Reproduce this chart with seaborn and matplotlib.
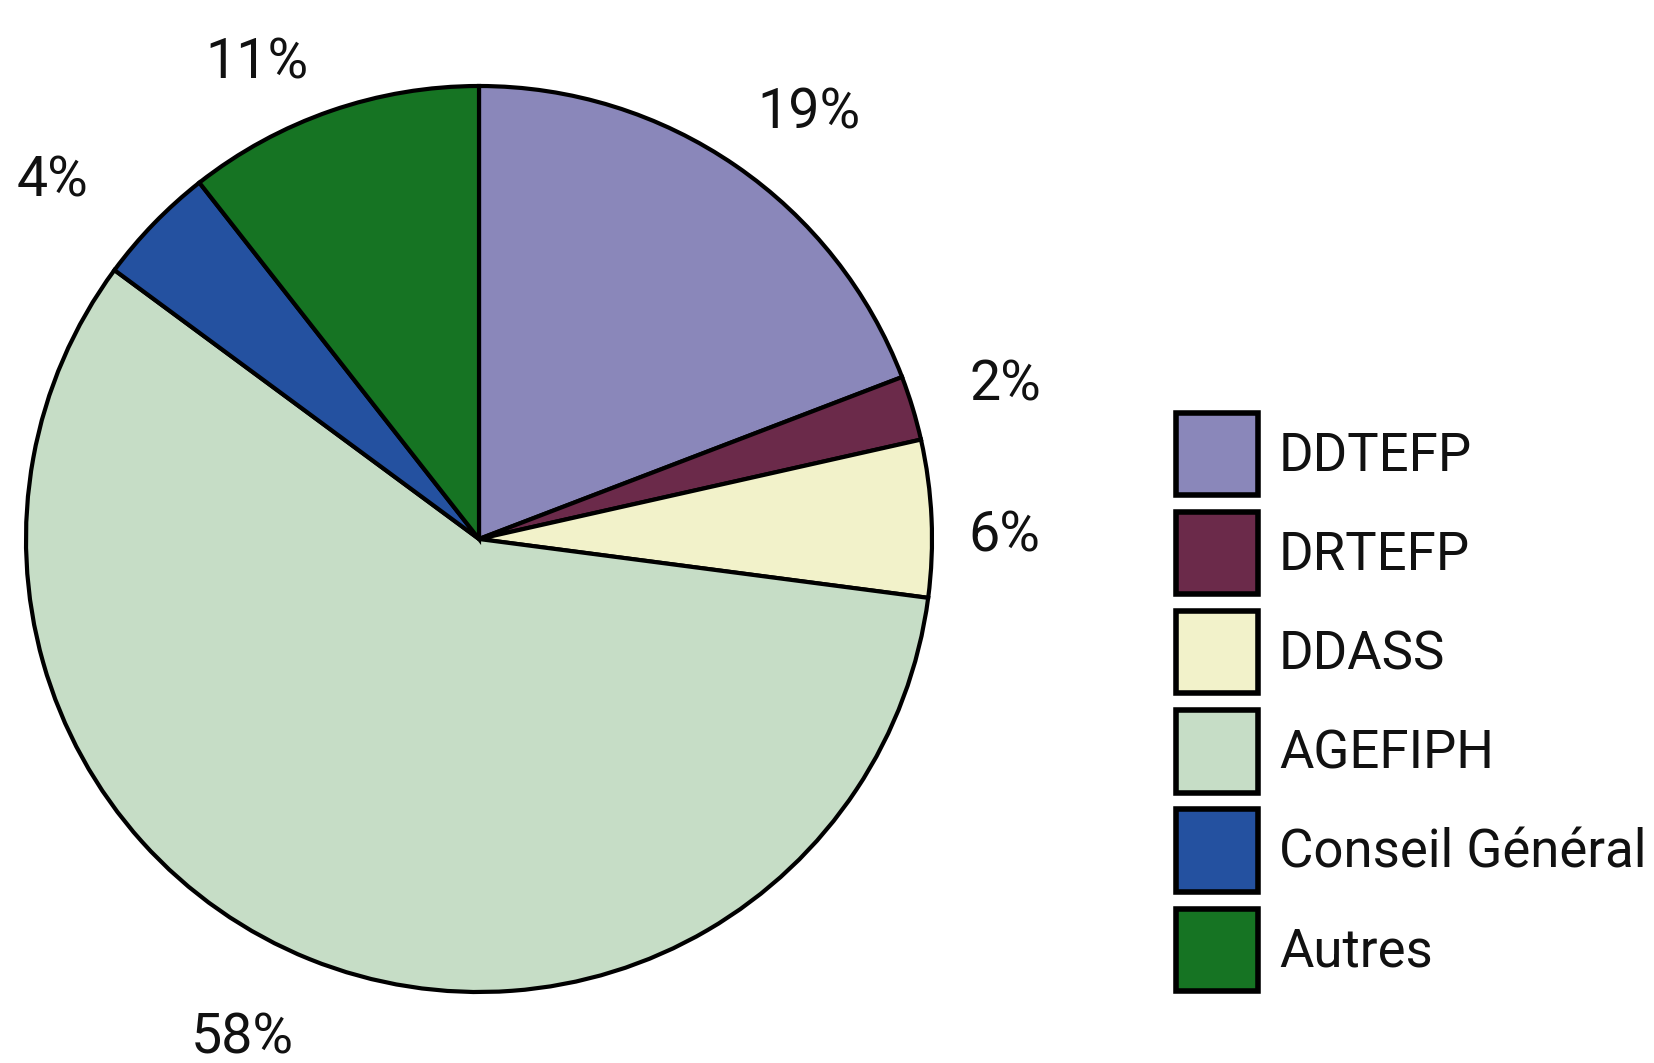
import matplotlib
matplotlib.use("Agg")
import numpy as np
import matplotlib.pyplot as plt
import seaborn as sns

# ── DATA ────────────────────────────────────────────────────
categories = ["DDTEFP", "DRTEFP", "DDASS", "AGEFIPH", "Conseil Général", "Autres"]
shares = [19.2, 2.3, 5.6, 58.1, 4.3, 10.6]
colors = ["#8A87BA", "#6B2A4A", "#F2F2CA", "#C6DDC6", "#2451A0", "#167423"]

# label placement (angle in degrees, radius in pie units)
label_angles = [52.2, 16.3, 0.3, 244.6, 140.0, 115.0]
label_radius = [1.19, 1.21, 1.16, 1.22, 1.23, 1.16]

sns.set_theme(style="white")
plt.rcParams["font.family"] = ["Roboto", "DejaVu Sans"]

fig = plt.figure(figsize=(16.54, 10.63), dpi=100)
ax = fig.add_axes([24 / 1654, 71 / 1063, 910 / 1654, 906 / 1063])

wedges, _, autotexts = ax.pie(
    shares, colors=colors, startangle=90, counterclock=False,
    autopct="%.0f%%", pctdistance=1.2,
    wedgeprops=dict(edgecolor="black", linewidth=3),
    textprops=dict(fontsize=40, color="#111111"),
)
for t, a, r in zip(autotexts, label_angles, label_radius):
    t.set_position((r * np.cos(np.radians(a)), r * np.sin(np.radians(a))))

ax.set_xlim(-1, 1)
ax.set_ylim(-1, 1)
ax.axis("off")

leg = fig.legend(wedges, categories, loc="upper left",
                 bbox_to_anchor=(1176 / 1654, 1 - 413 / 1063),
                 frameon=False, fontsize=38, borderpad=0, borderaxespad=0,
                 handlelength=1.55, handleheight=2.02, labelspacing=0.32,
                 handletextpad=0.40, labelcolor="#111111")
for h in leg.legend_handles:
    h.set_linewidth(4)

fig.savefig("out.png", dpi=100)
